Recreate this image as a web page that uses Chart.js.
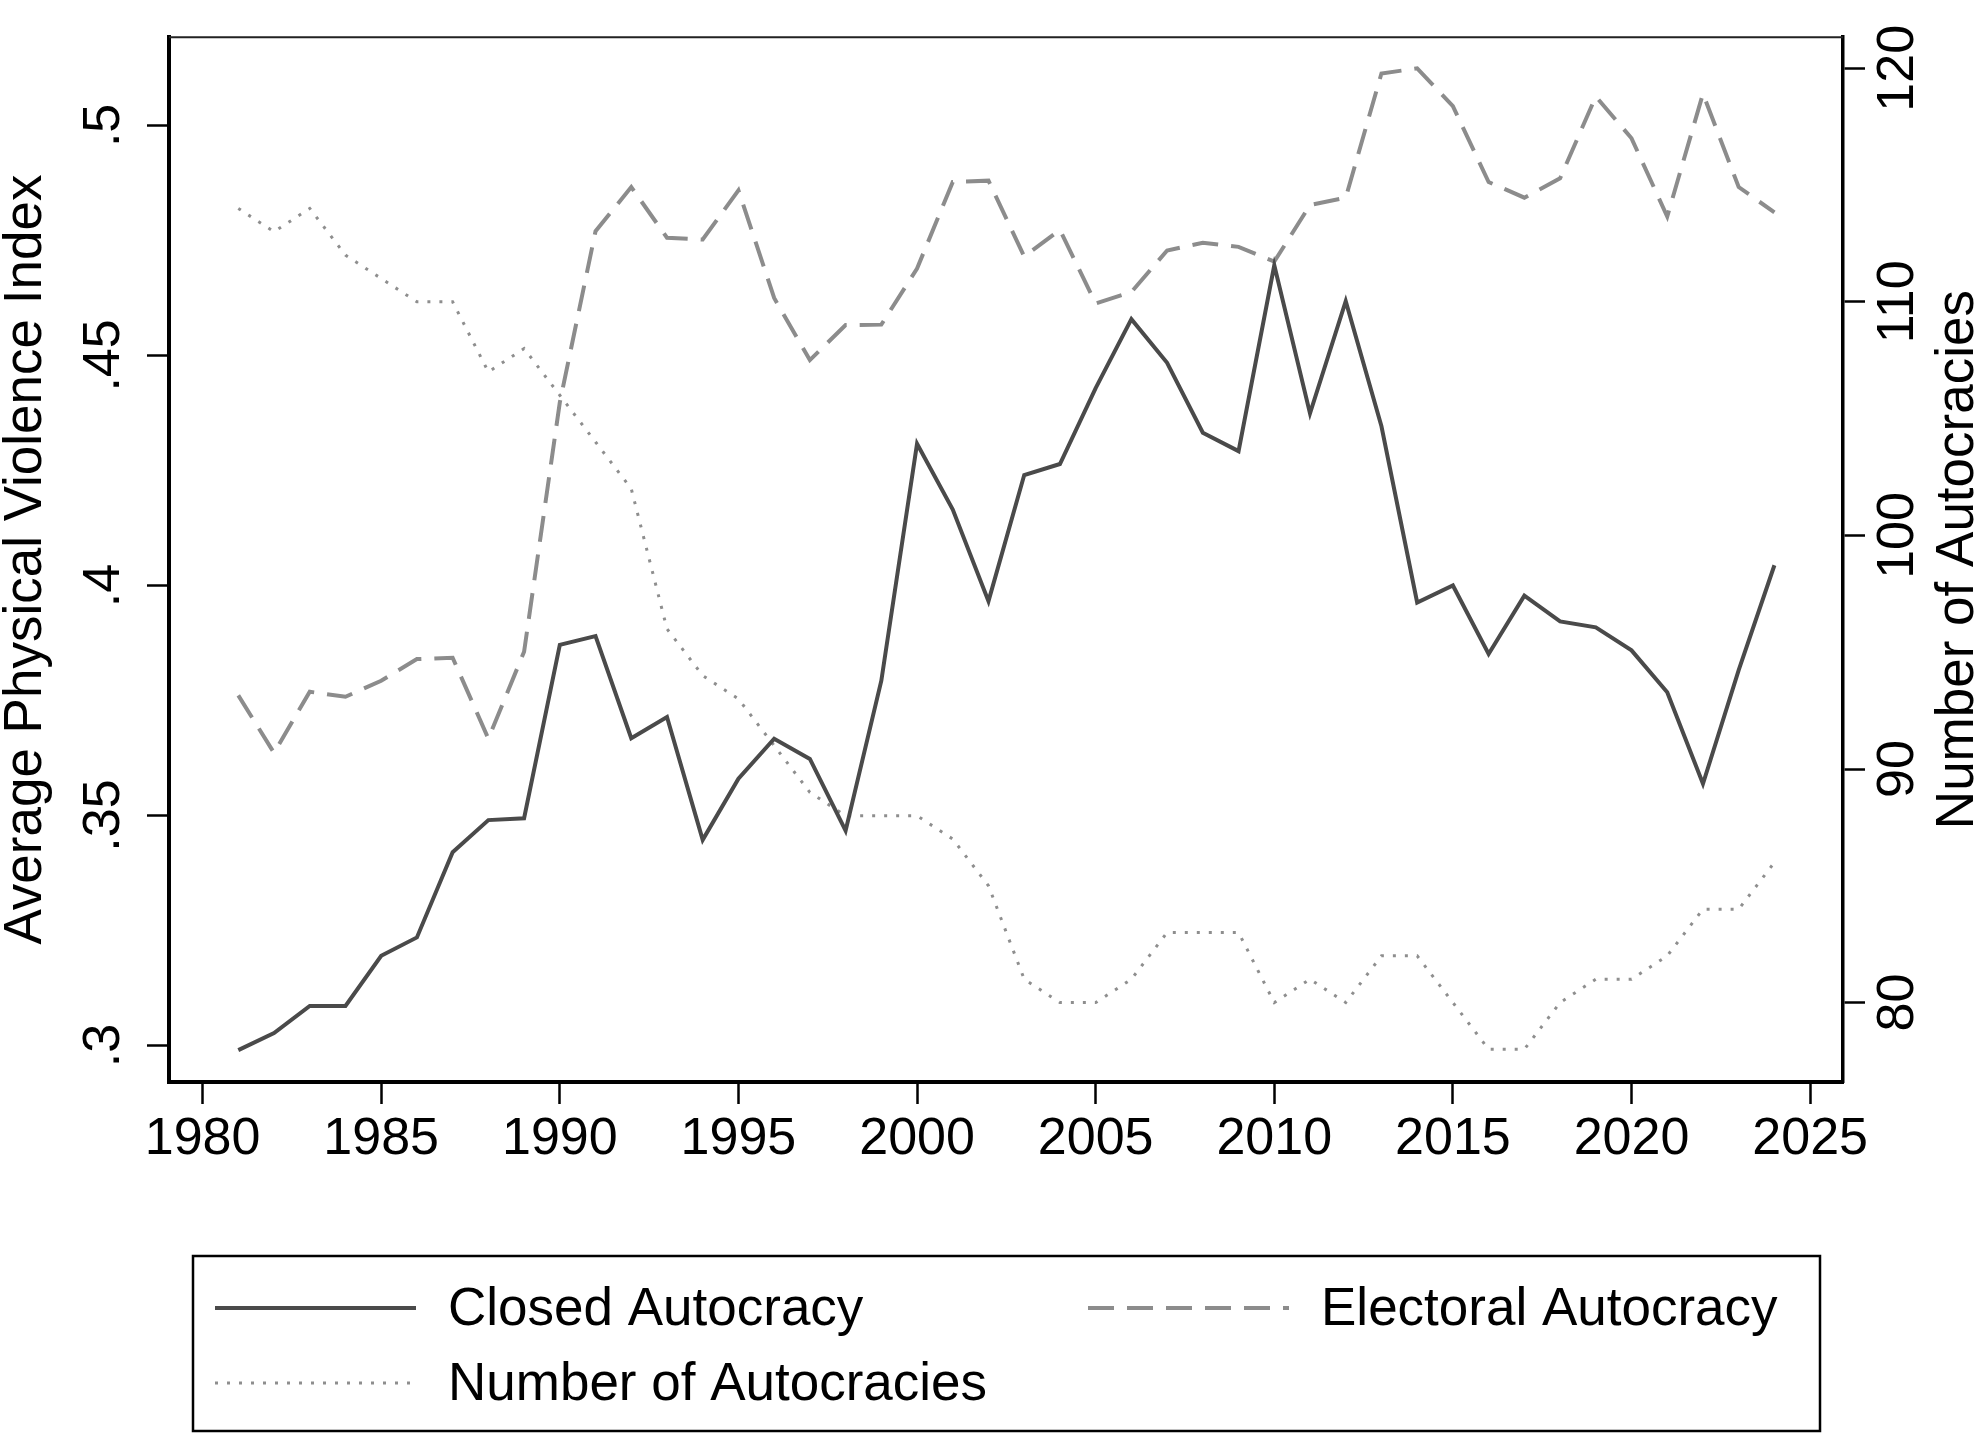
<!DOCTYPE html>
<html>
<head>
<meta charset="utf-8">
<script src="https://cdn.jsdelivr.net/npm/chart.js@4"></script>
<style>
  html, body { margin: 0; padding: 0; background: #fff; }
</style>
</head>
<body>
<canvas id="chart" width="1982" height="1438"></canvas>
<script>
// data
const years = [1981, 1982, 1983, 1984, 1985, 1986, 1987, 1988, 1989, 1990,
  1991, 1992, 1993, 1994, 1995, 1996, 1997, 1998, 1999, 2000,
  2001, 2002, 2003, 2004, 2005, 2006, 2007, 2008, 2009, 2010,
  2011, 2012, 2013, 2014, 2015, 2016, 2017, 2018, 2019, 2020,
  2021, 2022, 2023, 2024]

const closedAutocracy = [0.299, 0.3027, 0.3086, 0.3086, 0.3195, 0.3235, 0.342, 0.349, 0.3494, 0.3871,
  0.389, 0.3668, 0.3714, 0.3447, 0.358, 0.3667, 0.3623, 0.3467, 0.3793, 0.4308,
  0.4165, 0.3966, 0.424, 0.4264, 0.4429, 0.4579, 0.4484, 0.4332, 0.4292, 0.4696,
  0.4374, 0.4618, 0.4346, 0.3963, 0.400, 0.3851, 0.3978, 0.3922, 0.3909, 0.3859,
  0.3768, 0.3569, 0.3816, 0.4044]

const electoralAutocracy = [0.3761, 0.3636, 0.3769, 0.3758, 0.3793, 0.384, 0.3843, 0.3667, 0.3856, 0.4398,
  0.477, 0.4866, 0.4756, 0.4752, 0.4859, 0.4625, 0.449, 0.4566, 0.4567, 0.4689,
  0.4877, 0.488, 0.4715, 0.4773, 0.4613, 0.4638, 0.4728, 0.4745, 0.4736, 0.4704,
  0.4827, 0.4843, 0.5113, 0.5124, 0.5042, 0.4877, 0.4843, 0.4885, 0.5063, 0.4972,
  0.4802, 0.5069, 0.4866, 0.4811]

const numberOfAutocracies = [114, 113, 114, 112, 111, 110, 110, 107, 108, 106,
  104, 102, 96, 94, 93, 91, 89, 88, 88, 88,
  87, 85, 81, 80, 80, 81, 83, 83, 83, 80,
  81, 80, 82, 82, 80, 78, 78, 80, 81, 81,
  82, 84, 84, 86]

const xTicks = [1980, 1985, 1990, 1995, 2000, 2005, 2010, 2015, 2020, 2025]
const leftTicks = [0.3, 0.35, 0.4, 0.45, 0.5]
const leftTickLabels = ['.3', '.35', '.4', '.45', '.5']
const rightTicks = [80, 90, 100, 110, 120]
const rightTickLabels = ['80', '90', '100', '110', '120']

const seriesNames = ['Closed Autocracy', 'Electoral Autocracy', 'Number of Autocracies']

const FONT = "'Liberation Sans', Arial, Helvetica, sans-serif"
Chart.defaults.font.family = FONT
Chart.defaults.color = '#000000'

const toPoints = (vals) => years.map((yr, i) => ({ x: yr, y: vals[i] }))

// legend slots (sample start, sample end, text x, row y)
const legendSlots = [
  { x0: 215, x1: 416, tx: 448, y: 1308 },
  { x0: 1088, x1: 1289, tx: 1321, y: 1308 },
  { x0: 215, x1: 416, tx: 448, y: 1383 }
]

const framePlugin = {
  id: 'frame',
  afterDraw(chart) {
    const { ctx, chartArea } = chart
    ctx.save()
    // top border of the plot region
    ctx.strokeStyle = '#222'
    ctx.lineWidth = 2
    ctx.beginPath()
    ctx.moveTo(chartArea.left, chartArea.top)
    ctx.lineTo(chartArea.right, chartArea.top)
    ctx.stroke()

    // right axis title, reading bottom to top
    ctx.fillStyle = '#000'
    ctx.font = '53px ' + FONT
    ctx.textAlign = 'center'
    ctx.textBaseline = 'middle'
    ctx.translate(1958, (chartArea.top + chartArea.bottom) / 2)
    ctx.rotate(-Math.PI / 2)
    ctx.fillText('Number of Autocracies', 0, 0)
    ctx.restore()

    // boxed legend
    ctx.save()
    ctx.strokeStyle = '#000'
    ctx.lineWidth = 2.5
    ctx.strokeRect(193, 1256, 1627, 175)
    chart.data.datasets.forEach((ds, i) => {
      const s = legendSlots[i]
      ctx.strokeStyle = ds.borderColor
      ctx.lineWidth = ds.borderWidth
      ctx.setLineDash(ds.borderDash || [])
      ctx.beginPath()
      ctx.moveTo(s.x0, s.y)
      ctx.lineTo(s.x1, s.y)
      ctx.stroke()
      ctx.setLineDash([])
      ctx.fillStyle = '#000'
      ctx.font = '53px ' + FONT
      ctx.textAlign = 'left'
      ctx.textBaseline = 'middle'
      ctx.fillText(ds.label, s.tx, s.y + 2)
    })
    ctx.restore()
  }
}

new Chart(document.getElementById('chart'), {
  type: 'line',
  data: {
    datasets: [{
      label: seriesNames[0],
      data: toPoints(closedAutocracy),
      borderColor: '#4a4a4a',
      borderWidth: 4,
      yAxisID: 'y'
    }, {
      label: seriesNames[1],
      data: toPoints(electoralAutocracy),
      borderColor: '#8c8c8c',
      borderWidth: 4,
      borderDash: [26, 13],
      yAxisID: 'y'
    }, {
      label: seriesNames[2],
      data: toPoints(numberOfAutocracies),
      borderColor: '#8e8e8e',
      borderWidth: 3,
      borderDash: [3, 9],
      yAxisID: 'y2'
    }]
  },
  options: {
    responsive: false,
    animation: false,
    devicePixelRatio: 1,
    layout: { padding: { top: 22, left: 0, right: 0, bottom: 0 } },
    elements: {
      point: { radius: 0 },
      line: { tension: 0, fill: false }
    },
    plugins: {
      legend: { display: false },
      tooltip: { enabled: false }
    },
    scales: {
      x: {
        type: 'linear',
        min: 1979.06,
        max: 2025.92,
        afterBuildTicks: (s) => { s.ticks = xTicks.map(v => ({ value: v })) },
        afterFit: (s) => { s.height = 356 },
        ticks: {
          autoSkip: false,
          maxRotation: 0,
          padding: 4,
          font: { size: 52 },
          color: '#000',
          callback: (v) => String(v)
        },
        grid: { drawOnChartArea: false, drawTicks: true, tickLength: 22, tickWidth: 2.5, color: '#000' },
        border: { display: true, width: 4, color: '#000' }
      },
      y: {
        type: 'linear',
        position: 'left',
        min: 0.29207,
        max: 0.51918,
        afterBuildTicks: (s) => { s.ticks = leftTicks.map(v => ({ value: v })) },
        afterFit: (s) => { s.width = 169 },
        ticks: {
          autoSkip: false,
          minRotation: 90,
          maxRotation: 90,
          crossAlign: 'center',
          padding: 6,
          font: { size: 52 },
          color: '#000',
          callback: (v, i) => leftTickLabels[i]
        },
        title: {
          display: true,
          text: 'Average Physical Violence Index',
          font: { size: 53, lineHeight: 1 },
          padding: 0,
          color: '#000'
        },
        grid: { drawOnChartArea: false, drawTicks: true, tickLength: 22, tickWidth: 2.5, color: '#000' },
        border: { display: true, width: 4, color: '#000' }
      },
      y2: {
        type: 'linear',
        position: 'right',
        min: 76.6,
        max: 121.33,
        afterBuildTicks: (s) => { s.ticks = rightTicks.map(v => ({ value: v })) },
        afterFit: (s) => { s.width = 139 },
        ticks: {
          autoSkip: false,
          minRotation: 90,
          maxRotation: 90,
          crossAlign: 'center',
          padding: -10,
          font: { size: 52 },
          color: '#000',
          callback: (v, i) => rightTickLabels[i]
        },
        grid: { drawOnChartArea: false, drawTicks: true, tickLength: 22, tickWidth: 2.5, color: '#000' },
        border: { display: true, width: 3.5, color: '#000' }
      }
    }
  },
  plugins: [framePlugin]
})
</script>
</body>
</html>
